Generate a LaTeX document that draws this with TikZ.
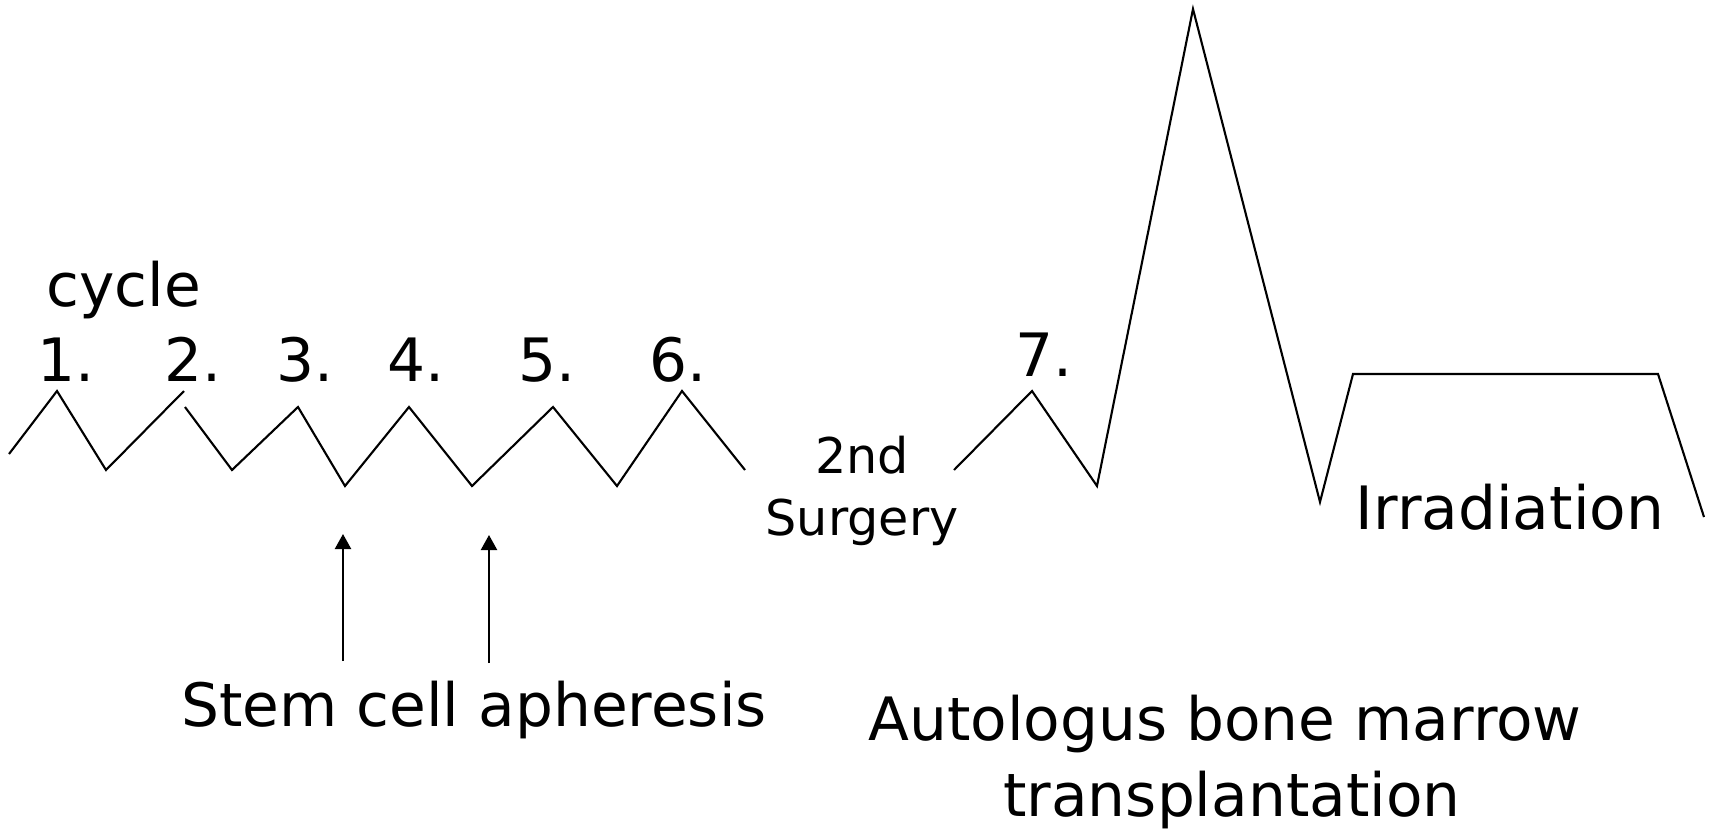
\documentclass[tikz,border=0pt]{standalone}
\usepackage{fontspec}
\setmainfont{DejaVu Sans}
\usepackage{tikz}
\usetikzlibrary{arrows.meta,positioning}
\tikzset{
    % Chart line style
    curveline/.style={
        draw=black,
        line width=0.6pt,
        line join=miter
    },
    % Arrow style
    myarrow/.style={
        -{Triangle[length=4.3pt,width=4.6pt]},
        line width=0.6pt,
        draw=black
    },
    % Big label
    biglabel/.style={
        anchor=base,
        inner sep=0pt,
        font=\fontsize{17}{20}\selectfont
    },
    % Cycle number
    cyclenum/.style={
        biglabel
    },
    % Small label
    smalllabel/.style={
        anchor=base,
        inner sep=0pt,
        font=\fontsize{14}{17}\selectfont
    }
}
\begin{document}
\begin{tikzpicture}[x=0.01cm,y=-0.01cm]
    \useasboundingbox (0,0) rectangle (1711,833);

    % Cycles 1-6
    \draw[curveline] (9,454) -- (57,391) -- (106,470) -- (184,391);
    \draw[curveline] (185,407) -- (232,470) -- (298,407) -- (345,486) -- (409,407)
        -- (472,486) -- (553,407) -- (617,486) -- (682,391) -- (745,470);

    % Cycle 7 and transplantation
    \draw[curveline] (954,470) -- (1032,391) -- (1097,486) -- (1193,9) -- (1320,502)
        -- (1353,374) -- (1658,374) -- (1704,517);

    % Labels
    \node[biglabel, anchor=base west] (cycle) at (46,306) {cycle};
    \node[cyclenum] (c1) at (66,381) {1.};
    \node[cyclenum] (c2) at (193,381) {2.};
    \node[cyclenum] (c3) at (305,381) {3.};
    \node[cyclenum] (c4) at (416,381) {4.};
    \node[cyclenum] (c5) at (547,381) {5.};
    \node[cyclenum] (c6) at (678,381) {6.};
    \node[cyclenum] (c7) at (1044,376) {7.};

    \node[smalllabel] (second) at (862,473) {2nd};
    \node[smalllabel] (surgery) at (862,535) {Surgery};
    \node[biglabel] (irrad) at (1510,529) {Irradiation};

    \node[biglabel] (apher) at (474,726) {Stem cell apheresis};
    \node[biglabel] (abmt) at (1225,740) {Autologus bone marrow};
    \node[biglabel] (abmt2) at (1232,816) {transplantation};

    % Apheresis arrows
    \coordinate (a1low) at (343,661);
    \coordinate (a1top) at (343,534);
    \coordinate (a2low) at (489,663);
    \coordinate (a2top) at (489,535);
    \draw[myarrow] (a1low) -- (a1top);
    \draw[myarrow] (a2low) -- (a2top);
\end{tikzpicture}
\end{document}
